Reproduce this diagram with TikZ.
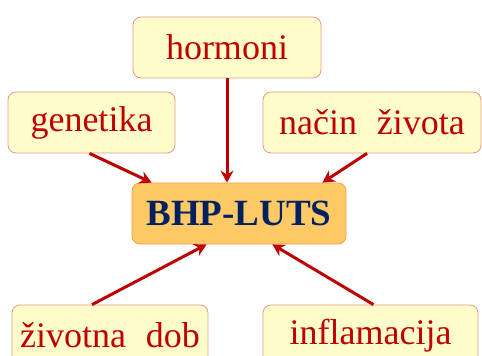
\documentclass[tikz,border=0pt]{standalone}
\usepackage{fontspec}
\setmainfont{Liberation Serif}
\usetikzlibrary{arrows.meta}

\definecolor{boxfill}{HTML}{FFFDCB}
\definecolor{boxline}{HTML}{E39A86}
\definecolor{txtred}{HTML}{C00000}
\definecolor{mainfill}{HTML}{FFC966}
\definecolor{mainline}{HTML}{F2A04E}
\definecolor{navy}{HTML}{002060}

\tikzset{
    factor/.style={draw=boxline, fill=boxfill, rounded corners=8pt, line width=0.8pt,
        text=txtred, inner sep=0pt, minimum height=61pt,
        font=\fontsize{36}{40}\selectfont},
    mainbox/.style={draw=mainline, fill=mainfill, rounded corners=8pt, line width=0.8pt,
        text=navy, inner sep=0pt, minimum width=214pt, minimum height=61pt,
        font=\fontsize{37}{40}\selectfont\bfseries},
    cause/.style={draw=txtred, line width=3pt,
        -{Stealth[length=12pt,width=13pt,inset=4pt]}}
}

\begin{document}
\begin{tikzpicture}[x=1pt, y=-1pt]
        \useasboundingbox (0, 0) rectangle (482, 356);
        \clip (0, 0) rectangle (482, 356);
        % the five factors
        \node[factor, minimum width=188pt] (hormoni) at (227, 47.5) {hormoni};
        \node[factor, minimum width=167pt] (genetika) at (91.5, 122.5) {genetika};
        \node[factor, minimum width=218pt] (nacin) at (372, 122.5) {način\hspace{0.3em} života};
        \node[factor, minimum width=196pt] (dob) at (110, 335.5) {životna\hspace{0.3em} dob};
        \node[factor, minimum width=215pt] (upala) at (370.5, 335.5) {inflamacija};
        \node[mainbox] (bhp) at (239, 213.5) {BHP-LUTS};
        % arrows into the middle box
        \coordinate (bhpA) at ([xshift=20pt]bhp.north west);
        \coordinate (bhpB) at ([xshift=-24pt]bhp.north east);
        \coordinate (bhpC) at ([xshift=75pt]bhp.south west);
        \coordinate (bhpD) at ([xshift=-74pt]bhp.south east);
        \draw[cause] (hormoni.south) -- (hormoni.south |- bhp.north);
        \draw[cause] ([xshift=-2pt]genetika.south) -- (bhpA);
        \draw[cause] ([xshift=-5pt]nacin.south) -- (bhpB);
        \draw[cause] ([xshift=-18pt]dob.north) -- (bhpC);
        \draw[cause] ([xshift=3pt]upala.north) -- (bhpD);
    \end{tikzpicture}
\end{document}
